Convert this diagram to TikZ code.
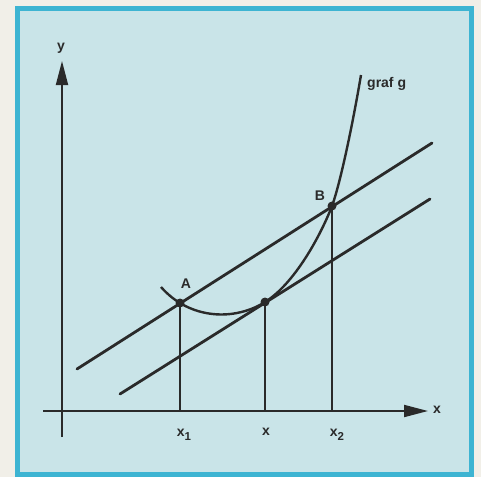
\documentclass[tikz,border=0pt]{standalone}
\usepackage{fontspec}
\setmainfont{Liberation Sans}
\usetikzlibrary{arrows.meta}
\definecolor{paper}{HTML}{F1EFE8}
\definecolor{panel}{HTML}{C9E4E8}
\definecolor{frame}{HTML}{3DB4D2}
\definecolor{ink}{HTML}{2A2A2A}
\newcommand{\subdigit}[1]{\raisebox{-3.5pt}{\fontsize{11.5}{12}\selectfont #1}}
\tikzset{
  lbl/.style={font=\bfseries\fontsize{14}{15}\selectfont, text=ink, inner sep=1pt},
  axis/.style={draw=ink, line width=1.9pt},
  slant/.style={draw=ink, line width=2.8pt, line cap=round},
  drop/.style={draw=ink, line width=1.5pt},
  curve/.style={draw=ink, line width=2.4pt},
  dot/.style={circle, fill=ink, minimum size=9pt, inner sep=0pt},
  tip/.style={-{Triangle[length=24pt,width=12pt]}}
}
\begin{document}
\begin{tikzpicture}[x=1pt,y=-1pt]
  \useasboundingbox (0,0) rectangle (481,477);
  \fill[paper] (0,0) rectangle (481,477);
  \draw[frame, fill=panel, line width=5pt] (17.5,8) rectangle (471.5,474);
  % axes
  \coordinate (yb) at (62,437);
  \coordinate (yt) at (62,61);
  \coordinate (xl) at (43,411);
  \coordinate (xr) at (428,411);
  \draw[axis, tip] (yb) -- (yt);
  \draw[axis, tip] (xl) -- (xr);
  \node[lbl] (ylab) at (61,48) {y};
  \node[lbl] (xlab) at (437,410) {x};
  % parallel lines
  \coordinate (u1) at (77,369);
  \coordinate (u2) at (432,143);
  \coordinate (l1) at (120,394);
  \coordinate (l2) at (430,199);
  \draw[slant] (u1) -- (u2);
  \draw[slant] (l1) -- (l2);
  % curve
  \coordinate (c0) at (161,287);
  \coordinate (c3) at (361,75);
  \node[dot] (A) at (180,303) {};
  \node[dot] (T) at (265,302) {};
  \node[dot] (B) at (332,206) {};
  \draw[curve] (c0) .. controls (190,320) and (235,321) .. (T.center)
     .. controls (294,284) and (320,237) .. (B.center)
     .. controls (340,184) and (352,128) .. (c3);
  % drops
  \coordinate (ax) at (180,411);
  \coordinate (tx) at (265,411);
  \coordinate (bx) at (332,411);
  \draw[drop] (A.center) -- (ax);
  \draw[drop] (T.center) -- (tx);
  \draw[drop] (B.center) -- (bx);
  % labels
  \node[lbl] (Alab) at (186,284) {A};
  \node[lbl] (Blab) at (320,196) {B};
  \node[lbl, anchor=west] (glab) at (366,84) {graf g};
  \node[lbl] (x1) at (184,435) {x\subdigit{1}};
  \node[lbl] (xx) at (266,432) {x};
  \node[lbl] (x2) at (337,435) {x\subdigit{2}};
\end{tikzpicture}
\end{document}
